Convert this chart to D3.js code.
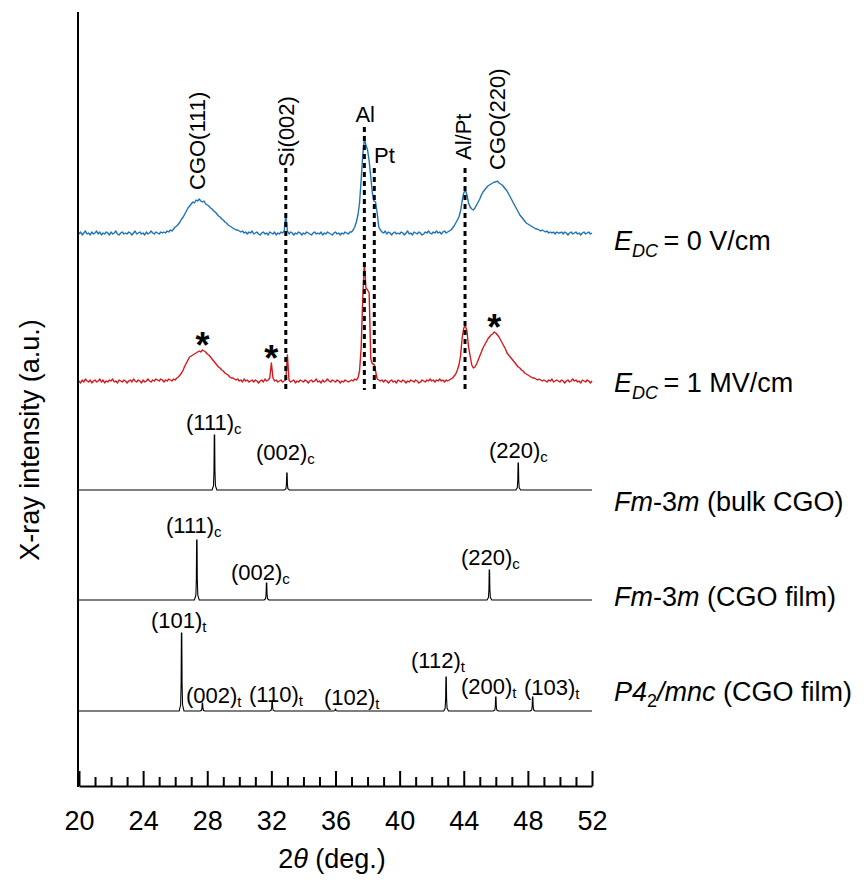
<!DOCTYPE html>
<html><head><meta charset="utf-8">
<script src="https://cdn.jsdelivr.net/npm/d3@7"></script>
<style>
body{margin:0;background:#fff}
text{font-family:Arial,"Liberation Sans",Helvetica,sans-serif;fill:#000}
</style>
</head><body>
<svg id="chart" width="868" height="886"></svg>
<script>
// ---------------- DATA ----------------
const xTickValues = [20,24,28,32,36,40,44,48,52];
const scanStart = 20, scanStep = 0.1;   // measured scans sampled every 0.1 deg from 20 to 52

// E_DC = 0 V/cm (blue), intensity a.u.
const blueI = [
1,3,0,2,4,1,2,0,3,1,
2,4,1,3,0,2,1,3,2,0,
3,1,2,4,1,0,2,3,1,2,
1,3,2,0,2,4,1,2,3,1,
2,0,3,1,2,4,2,1,3,2,
1,3,2,3,2,4,3,5,4,6,
8,9,11,13,16,18,21,24,27,29,
31,33,32,35,34,36,34,33,34,31,
30,29,27,26,24,23,21,19,18,16,
15,13,12,10,9,8,7,6,5,5,
4,3,4,2,3,1,3,2,4,1,
2,3,1,0,2,3,1,2,0,3,
2,1,3,0,2,1,3,2,4,20,
4,1,3,2,0,2,1,3,2,0,
2,1,3,2,1,0,2,3,1,2,
1,3,0,2,1,3,2,1,0,2,
3,1,2,0,2,1,3,2,1,3,
3,5,8,13,20,32,55,80,96,90,
85,74,58,42,34,33,22,8,5,3,
2,4,1,3,2,0,2,3,1,2,
1,3,2,0,2,4,1,2,0,3,
2,1,3,2,0,1,3,2,4,2,
1,3,2,4,2,3,1,3,4,2,
3,4,5,7,9,12,15,18,24,34,
42,45,40,32,28,26,25,27,30,33,
36,40,43,45,47,49,50,51,52,53,
53,54,52,51,50,48,46,44,41,38,
35,32,29,26,23,20,18,16,14,12,
11,10,9,8,7,6,6,5,4,5,
4,3,4,2,3,2,3,1,3,2,
2,3,1,3,2,0,2,3,1,2,
3,1,2,0,2,3,1,2,3,1,
2];

// E_DC = 1 MV/cm (red)
const redI = [
2,0,3,1,4,2,1,3,0,2,
3,1,2,4,1,3,0,2,1,3,
2,4,1,2,0,3,2,1,3,2,
0,2,3,1,4,2,1,3,2,0,
3,1,2,4,2,1,3,2,4,3,
2,4,3,1,3,2,4,3,2,4,
3,5,6,8,10,13,17,20,23,26,
27,28,29,30,31,32,31,33,32,31,
29,28,26,24,22,20,18,16,15,13,
12,10,9,8,6,5,5,4,3,4,
2,3,1,4,2,3,1,2,3,1,
3,2,0,2,3,1,4,2,3,5,
20,5,2,3,1,2,3,1,2,3,
28,3,1,2,3,0,2,1,3,2,
1,3,2,0,2,3,1,2,4,1,
2,0,3,1,2,4,2,1,3,2,
1,3,2,0,2,1,3,2,1,2,
3,2,4,3,5,12,35,85,120,95,
93,90,24,19,19,12,4,3,2,3,
1,3,2,0,2,3,1,2,0,3,
2,1,3,2,0,2,1,3,2,1,
3,2,0,1,3,2,1,3,2,4,
2,3,1,3,2,4,2,3,1,3,
2,3,4,5,7,9,13,18,27,45,
55,57,52,36,27,18,15,16,19,23,
27,31,35,38,41,44,46,48,49,51,
50,48,46,43,40,37,34,30,28,26,
24,22,20,18,16,15,13,12,10,9,
8,7,6,5,5,4,3,4,3,2,
3,2,1,3,2,4,1,2,3,2,
1,3,2,0,2,3,1,2,4,2,
3,1,2,0,3,2,1,3,2,0,
2];

// reference patterns: [2theta, intensity]
const bulkPeaks = [[28.45,55],[32.97,17],[47.4,27]];
const filmPeaks = [[27.35,60],[31.7,17],[45.6,30]];
const tetraPeaks = [[26.4,78],[27.7,8],[32.05,10],[36.0,2],[42.9,34],[46.0,14],[48.3,14]];

// labels of reference peaks
const bulkLabels = [["(111)","c"],["(002)","c"],["(220)","c"]];
const filmLabels = [["(111)","c"],["(002)","c"],["(220)","c"]];
const tetraLabels = [["(101)","t"],["(002)","t"],["(110)","t"],["(102)","t"],["(112)","t"],["(200)","t"],["(103)","t"]];

// substrate / electrode reference lines (2theta)
const refLines = [32.9, 37.8, 38.42, 44.08];
// star-marked peaks on the 1 MV/cm scan
const starPeaks = [27.7, 32.0, 45.9];

// ---------------- LAYOUT ----------------
const svg = d3.select("#chart");
const X0 = 79, X1 = 592, YB = 786, YT = 12;
const x = d3.scaleLinear().domain([20,52]).range([X0,X1]);
const y = d3.scaleLinear().domain([0,774]).range([YB,YT]);
const off = {blue:551, red:403, bulk:296, film:186, tetra:75};
const BLUE = "#1f72b6", RED = "#d7191c";

function scanPoints(arr){ return arr.map((v,i)=>[scanStart+i*scanStep, v]); }
const line = o => d3.line().x(d=>x(d[0])).y(d=>y(o+d[1]));

// measured scans
svg.append("path").datum(scanPoints(blueI)).attr("d", line(off.blue))
  .attr("fill","none").attr("stroke",BLUE).attr("stroke-width",1.4).attr("stroke-linejoin","round");
svg.append("path").datum(scanPoints(redI)).attr("d", line(off.red))
  .attr("fill","none").attr("stroke",RED).attr("stroke-width",1.4).attr("stroke-linejoin","round");

// reference stick patterns drawn as narrow peaks
function stickPoints(peaks){
  const pts=[[20,0]];
  peaks.slice().sort((a,b)=>a[0]-b[0]).forEach(([p,h])=>{
    pts.push([p-0.15,0],[p-0.06,0.08*h],[p-0.03,0.35*h],[p-0.012,h],[p+0.012,h],[p+0.03,0.35*h],[p+0.06,0.08*h],[p+0.15,0]);
  });
  pts.push([52,0]);
  return pts;
}
[[bulkPeaks,off.bulk],[filmPeaks,off.film],[tetraPeaks,off.tetra]].forEach(([pk,o])=>{
  svg.append("path").datum(stickPoints(pk)).attr("d", line(o))
    .attr("fill","none").attr("stroke","#000").attr("stroke-width",1.1);
});

// dashed reference lines
const lineTops = [168,127,168,168];
svg.selectAll("line.ref").data(refLines).enter().append("line")
  .attr("x1",d=>x(d)).attr("x2",d=>x(d))
  .attr("y1",(d,i)=>lineTops[i]).attr("y2",390)
  .attr("stroke","#000").attr("stroke-width",3).attr("stroke-dasharray","5,4");

// stars
starPeaks.forEach(p=>{
  const idx = Math.round((p-scanStart)/scanStep);
  const h = d3.max(redI.slice(idx-2, idx+3));
  svg.append("text").attr("x",x(p)).attr("y",y(off.red+h)-12+20)
    .attr("text-anchor","middle").attr("font-size",36).attr("font-weight","bold").text("*");
});

// rotated peak labels on measured scans
const rotLabels = [["CGO(111)",27.4,190],["Si(002)",32.9,167],["Al/Pt",43.98,160],["CGO(220)",46.1,170]];
rotLabels.forEach(([t,p,b])=>{
  svg.append("text").attr("transform",`translate(${x(p)},${b}) rotate(-90)`)
    .attr("dy","0.35em").attr("font-size",22).text(t);
});
svg.append("text").attr("x",x(37.85)).attr("y",122).attr("text-anchor","middle").attr("font-size",22).text("Al");
svg.append("text").attr("x",374).attr("y",163).attr("font-size",22).text("Pt");

// reference peak labels
const bulkPos = [[186,430],[256,460],[489,458]];
const filmPos = [[166,533],[231,580],[461,565]];
const tetraPos = [[151,628],[186,703],[249,702],[324,705],[411,668],[461,694],[524,695]];
function peakLabel(lbl,pos){
  lbl.forEach((l,i)=>{
    const t = svg.append("text").attr("x",pos[i][0]).attr("y",pos[i][1]).attr("font-size",22);
    t.append("tspan").text(l[0]);
    t.append("tspan").attr("font-size",15).attr("dy",4).text(l[1]);
  });
}
peakLabel(bulkLabels,bulkPos); peakLabel(filmLabels,filmPos); peakLabel(tetraLabels,tetraPos);

// right-side series labels
const RX = 614, FS = 27;
function eLabel(yb, val){
  const t = svg.append("text").attr("x",RX).attr("y",yb).attr("font-size",FS);
  t.append("tspan").attr("font-style","italic").text("E");
  t.append("tspan").attr("font-style","italic").attr("font-size",18).attr("dy",7).text("DC");
  t.append("tspan").attr("dy",-7).text("\u2009= "+val);
}
eLabel(250,"0 V/cm");
eLabel(392,"1 MV/cm");
function fmLabel(yb, rest){
  const t = svg.append("text").attr("x",RX).attr("y",yb).attr("font-size",FS);
  t.append("tspan").attr("font-style","italic").text("Fm");
  t.append("tspan").text("-3");
  t.append("tspan").attr("font-style","italic").text("m");
  t.append("tspan").text(rest);
}
fmLabel(511," (bulk CGO)");
fmLabel(606," (CGO film)");
{
  const t = svg.append("text").attr("x",RX).attr("y",701).attr("font-size",FS);
  t.append("tspan").attr("font-style","italic").text("P4");
  t.append("tspan").attr("font-size",18).attr("dy",6).text("2");
  t.append("tspan").attr("font-style","italic").attr("dy",-6).text("/mnc");
  t.append("tspan").text(" (CGO film)");
}

// axes
const xAxis = d3.axisBottom(x).tickValues(d3.range(20,53,1))
  .tickSizeInner(-9).tickSizeOuter(0).tickPadding(25)
  .tickFormat(d=> xTickValues.includes(d) ? d : "");
const gx = svg.append("g").attr("transform",`translate(0,${YB})`).call(xAxis);
gx.select(".domain").attr("stroke-width",2);
gx.selectAll(".tick line").attr("stroke-width",2).filter(d=>xTickValues.includes(d)).attr("y2",-15);
gx.selectAll(".tick text").attr("font-size",27).attr("font-family","Arial,'Liberation Sans',sans-serif").attr("fill","#000");
svg.append("line").attr("x1",X0-1).attr("x2",X0-1).attr("y1",YT).attr("y2",YB+1).attr("stroke","#000").attr("stroke-width",2);

// axis titles
const xt = svg.append("text").attr("x",332).attr("y",868).attr("text-anchor","middle").attr("font-size",FS);
xt.append("tspan").text("2");
xt.append("tspan").attr("font-style","italic").text("\u03b8");
xt.append("tspan").text(" (deg.)");
svg.append("text").attr("transform","translate(30,440) rotate(-90)").attr("dy","0.35em")
  .attr("text-anchor","middle").attr("font-size",FS).text("X-ray intensity (a.u.)");
</script>
</body></html>
